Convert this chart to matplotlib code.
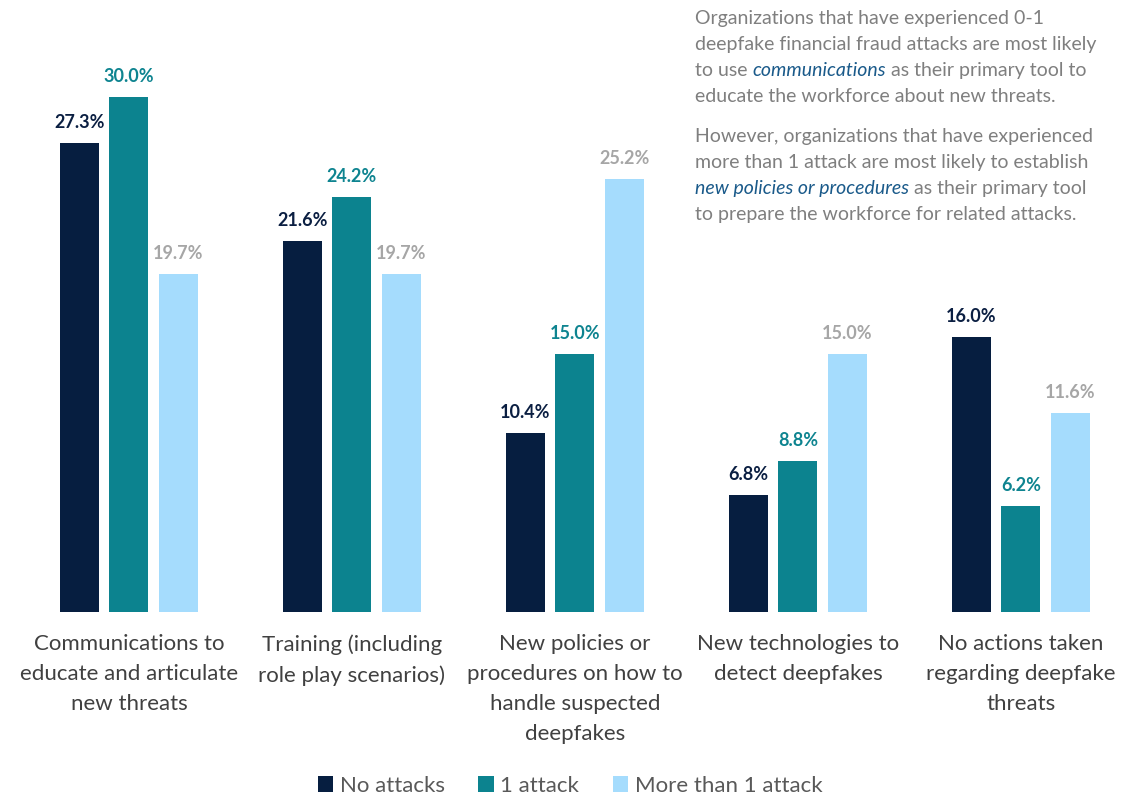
import matplotlib
matplotlib.use("Agg")
import matplotlib.pyplot as plt
import numpy as np
from matplotlib.patches import Patch

plt.rcParams["font.family"] = ["Lato", "DejaVu Sans"]

# survey results, % of organizations
categories = [
    "Communications to\neducate and articulate\nnew threats",
    "Training (including\nrole play scenarios)",
    "New policies or\nprocedures on how to\nhandle suspected\ndeepfakes",
    "New technologies to\ndetect deepfakes",
    "No actions taken\nregarding deepfake\nthreats",
]
series_names = ["No attacks", "1 attack", "More than 1 attack"]
no_attacks = [27.3, 21.6, 10.4, 6.8, 16.0]
one_attack = [30.0, 24.2, 15.0, 8.8, 6.2]
more_than_one = [19.7, 19.7, 25.2, 15.0, 11.6]

bar_colors = ["#061e40", "#0c838f", "#a5dcfd"]
label_colors = ["#0b1f42", "#0e8490", "#a6a6a6"]

fig = plt.figure(figsize=(11.4, 7.95), dpi=100)
ax = fig.add_axes([0, 0.2302, 1, 0.7698])

x = np.arange(len(categories))
width = 0.175
step = 0.222
for i, vals in enumerate([no_attacks, one_attack, more_than_one]):
    pos = x + (i - 1) * step
    bars = ax.bar(pos, vals, width, color=bar_colors[i], label=series_names[i])
    for b, v in zip(bars, vals):
        ax.text(b.get_x() + b.get_width() / 2, v + 0.7, f"{v:.1f}%",
                ha="center", va="bottom", fontsize=13, fontweight="bold",
                color=label_colors[i])

ax.set_xlim(-0.578, 4.534)
ax.set_ylim(0, 35.65)
ax.axis("off")

for xi, cat in zip(x, categories):
    ax.text(xi, -1.3, cat, ha="center", va="top", fontsize=16,
            color="#404040", linespacing=1.62)

# legend at the bottom
handles = [Patch(facecolor=c, edgecolor="none") for c in bar_colors]
fig.legend(handles, series_names, loc="lower center", bbox_to_anchor=(0.5, -0.026),
           ncol=3, frameon=False, fontsize=16, handlelength=0.7, handleheight=0.7,
           handletextpad=0.3, columnspacing=1.5, labelcolor="#595959")

# side note, italic phrases highlighted in blue
note_lines = [
    [("Organizations that have experienced 0-1", False)],
    [("deepfake financial fraud attacks are most likely", False)],
    [("to use ", False), ("communications", True), (" as their primary tool to", False)],
    [("educate the workforce about new threats.", False)],
    None,
    [("However, organizations that have experienced", False)],
    [("more than 1 attack are most likely to establish", False)],
    [("new policies or procedures", True), (" as their primary tool", False)],
    [("to prepare the workforce for related attacks.", False)],
]
gray = "#7f7f7f"
blue = "#1a5a8a"
y = 795 - 27
for line in note_lines:
    if line is None:
        y -= 14
        continue
    prev = None
    for seg, ital in line:
        kw = dict(fontsize=14, color=blue if ital else gray,
                  style="italic" if ital else "normal", va="bottom", ha="left")
        if prev is None:
            prev = fig.text(695 / 1140, y / 795, seg, **kw)
        else:
            prev = fig.add_artist(
                matplotlib.text.Annotation(seg, xy=(1, 0), xycoords=prev, **kw))
    y -= 26

fig.savefig("out.png", dpi=100)
